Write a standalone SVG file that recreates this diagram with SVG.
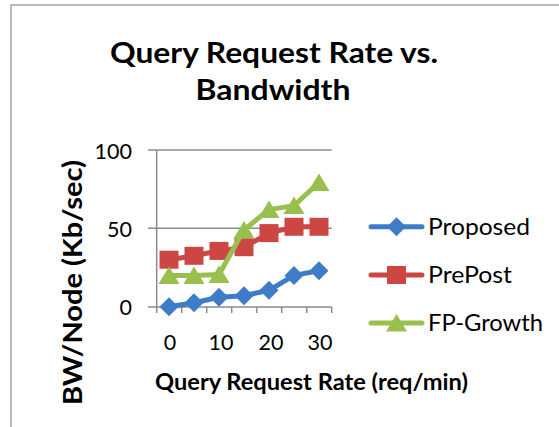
<svg xmlns="http://www.w3.org/2000/svg" width="559" height="427" viewBox="0 0 559 427">
  <style>
    .frame { fill: none; stroke: #a6a6a6; stroke-width: 1.5; }
    .grid { stroke: #8c8c8c; stroke-width: 1.5; fill: none; }
    .axis { stroke: #8c8c8c; stroke-width: 1.5; fill: none; }
    .title { font-family: Lato, "Liberation Sans", sans-serif; font-weight: bold; font-size: 28.5px; fill: #000; }
    .axtitle { font-family: Lato, "Liberation Sans", sans-serif; font-weight: bold; font-size: 23.5px; fill: #000; }
    .ytitle { font-family: Lato, "Liberation Sans", sans-serif; font-weight: bold; font-size: 27px; fill: #000; }
    .tick { font-family: Lato, "Liberation Sans", sans-serif; font-size: 21.5px; fill: #000; }
    .legend { font-family: Lato, "Liberation Sans", sans-serif; font-size: 23.5px; fill: #000; }
    .s-blue { stroke: #3f7cc8; fill: none; stroke-width: 5; stroke-linejoin: round; stroke-linecap: round; }
    .s-red { stroke: #cc4643; fill: none; stroke-width: 5; stroke-linejoin: round; stroke-linecap: round; }
    .s-green { stroke: #99bf4f; fill: none; stroke-width: 5; stroke-linejoin: round; stroke-linecap: round; }
    .m-blue { fill: #3f7cc8; }
    .m-red { fill: #cc4643; }
    .m-green { fill: #99bf4f; }
  </style>
  <defs>
    <path id="diamond" d="M0,-9.5 L9.5,0 L0,9.5 L-9.5,0 Z"/>
    <rect id="square" x="-9.5" y="-9" width="19" height="18"/>
    <path id="triangle" d="M0,-9 L10.5,8.5 L-10.5,8.5 Z"/>
  </defs>

  <rect width="559" height="427" fill="#ffffff"/>

  <!-- chart border (top and left edges) -->
  <path class="frame" d="M11,427 L11,5 L559,5"/>

  <!-- title -->
  <g id="title">
    <text class="title" x="274" y="63" text-anchor="middle" textLength="328" lengthAdjust="spacingAndGlyphs">Query Request Rate vs.</text>
    <text class="title" x="273" y="100" text-anchor="middle" textLength="155" lengthAdjust="spacingAndGlyphs">Bandwidth</text>
  </g>

  <!-- plot area: gridlines and axes -->
  <g id="axes">
    <path class="grid" d="M148,150 H331.7 M148,228.3 H331.7"/>
    <path class="axis" d="M156.7,150 V307 M148,307 H331.7"/>
    <path class="axis" d="M181.7,307 v6 M206.7,307 v6 M231.7,307 v6 M256.7,307 v6 M281.7,307 v6 M306.7,307 v6 M331.7,307 v6 M156.7,307 v6"/>
    <text class="tick" x="132" y="158.5" text-anchor="end">100</text>
    <text class="tick" x="132" y="236.8" text-anchor="end">50</text>
    <text class="tick" x="132" y="315" text-anchor="end">0</text>
    <text class="tick" x="170" y="350" text-anchor="middle">0</text>
    <text class="tick" x="221" y="350" text-anchor="middle">10</text>
    <text class="tick" x="271" y="350" text-anchor="middle">20</text>
    <text class="tick" x="320" y="350" text-anchor="middle">30</text>
  </g>

  <!-- axis titles -->
  <g id="x-axis-title">
    <text class="axtitle" x="311.5" y="390" text-anchor="middle" textLength="313" lengthAdjust="spacingAndGlyphs">Query Request Rate (req/min)</text>
  </g>
  <g id="y-axis-title">
    <text class="ytitle" transform="translate(81.5,282.5) rotate(-90)" x="0" y="0" text-anchor="middle" textLength="245" lengthAdjust="spacingAndGlyphs">BW/Node (Kb/sec)</text>
  </g>

  <!-- data series: y = 306.7 - value * 1.5667 -->
  <g id="series-proposed">
    <polyline class="s-blue" points="169,306.7 194,302.8 219,297.3 244,295.7 269,290.3 294,275.4 319,270.7"/>
    <use href="#diamond" class="m-blue" x="169" y="306.7"/>
    <use href="#diamond" class="m-blue" x="194" y="302.8"/>
    <use href="#diamond" class="m-blue" x="219" y="297.3"/>
    <use href="#diamond" class="m-blue" x="244" y="295.7"/>
    <use href="#diamond" class="m-blue" x="269" y="290.3"/>
    <use href="#diamond" class="m-blue" x="294" y="275.4"/>
    <use href="#diamond" class="m-blue" x="319" y="270.7"/>
  </g>
  <g id="series-prepost">
    <polyline class="s-red" points="169,259.7 194,255.8 219,250.9 244,247.2 269,233.1 294,226.8 319,226.8"/>
    <use href="#square" class="m-red" x="169" y="259.7"/>
    <use href="#square" class="m-red" x="194" y="255.8"/>
    <use href="#square" class="m-red" x="219" y="250.9"/>
    <use href="#square" class="m-red" x="244" y="247.2"/>
    <use href="#square" class="m-red" x="269" y="233.1"/>
    <use href="#square" class="m-red" x="294" y="226.8"/>
    <use href="#square" class="m-red" x="319" y="226.8"/>
  </g>
  <g id="series-fpgrowth">
    <polyline class="s-green" points="169,275.4 194,275.4 219,274.6 244,229.9 269,209.6 294,205.6 319,182.5"/>
    <use href="#triangle" class="m-green" x="169" y="275.4"/>
    <use href="#triangle" class="m-green" x="194" y="275.4"/>
    <use href="#triangle" class="m-green" x="219" y="274.6"/>
    <use href="#triangle" class="m-green" x="244" y="229.9"/>
    <use href="#triangle" class="m-green" x="269" y="209.6"/>
    <use href="#triangle" class="m-green" x="294" y="205.6"/>
    <use href="#triangle" class="m-green" x="319" y="182.5"/>
  </g>

  <!-- legend -->
  <g id="legend">
    <g id="legend-proposed">
      <path class="s-blue" d="M371,226.7 H422"/>
      <use href="#diamond" class="m-blue" x="396.5" y="226.7"/>
      <text class="legend" x="428" y="235" textLength="102" lengthAdjust="spacingAndGlyphs">Proposed</text>
    </g>
    <g id="legend-prepost">
      <path class="s-red" d="M371,275 H422"/>
      <use href="#square" class="m-red" x="396.5" y="275"/>
      <text class="legend" x="428" y="283" textLength="84" lengthAdjust="spacingAndGlyphs">PrePost</text>
    </g>
    <g id="legend-fpgrowth">
      <path class="s-green" d="M371,323 H422"/>
      <use href="#triangle" class="m-green" x="396.5" y="323"/>
      <text class="legend" x="428" y="330.5" textLength="115" lengthAdjust="spacingAndGlyphs">FP-Growth</text>
    </g>
  </g>
</svg>
